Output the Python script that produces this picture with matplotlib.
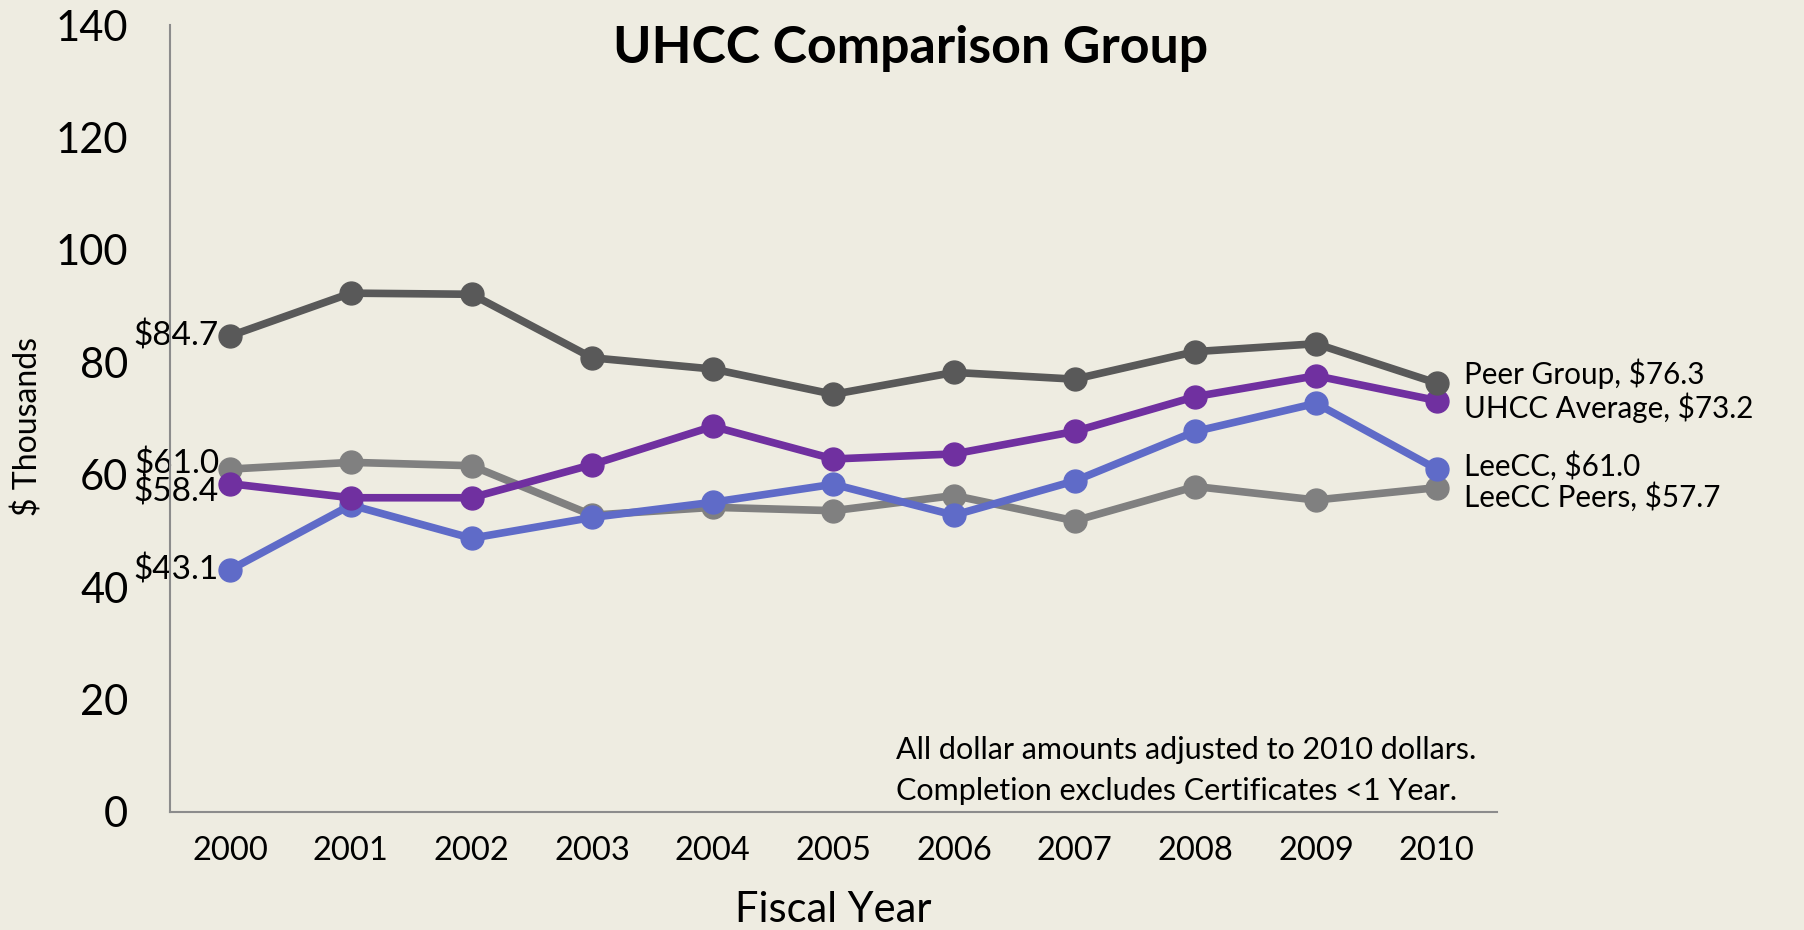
import matplotlib
matplotlib.use("Agg")
import matplotlib.pyplot as plt
import numpy as np

plt.rcParams['font.family'] = ['Lato', 'DejaVu Sans']

years = ['2000', '2001', '2002', '2003', '2004', '2005', '2006', '2007', '2008', '2009', '2010']

peer_group = [84.7, 92.3, 92.1, 80.8, 78.8, 74.3, 78.2, 77.0, 81.9, 83.3, 76.3]
uhcc_avg = [58.4, 55.9, 55.9, 61.8, 68.6, 62.8, 63.7, 67.7, 73.9, 77.6, 73.2]
leecc = [43.1, 54.6, 48.7, 52.4, 55.1, 58.3, 52.8, 58.9, 67.7, 72.7, 61.0]
leecc_peers = [61.0, 62.2, 61.6, 52.8, 54.2, 53.6, 56.3, 51.8, 57.9, 55.5, 57.7]

names = ['Peer Group', 'UHCC Average', 'LeeCC', 'LeeCC Peers']
series = [peer_group, uhcc_avg, leecc, leecc_peers]
colors = ['#595959', '#7030A0', '#5F6BC8', '#808080']
# label offsets (points): left start label, right end label
left_dy = [0, -6, 0, 4]
right_dy = [7, -5, 2, -7]

bg = '#EEECE1'
fig = plt.figure(figsize=(18.04, 9.30), dpi=100, facecolor=bg)
ax = fig.add_axes([0.0942, 0.1269, 0.7356, 0.8462], facecolor=bg)

x = np.arange(len(years))
for i in [3, 2, 1, 0]:
    ax.plot(x, series[i], color=colors[i], lw=5.5, marker='o', ms=16.5,
            solid_joinstyle='round', zorder=3)

for i in range(4):
    ax.annotate(f"${series[i][0]:.1f}", (x[0], series[i][0]),
                xytext=(-8, left_dy[i]), textcoords='offset points',
                ha='right', va='center', fontsize=24, color='black', zorder=2)
    ax.annotate(f"{names[i]}, ${series[i][-1]:.1f}", (x[-1], series[i][-1]),
                xytext=(20, right_dy[i]), textcoords='offset points',
                ha='left', va='center', fontsize=21.3, color='black',
                annotation_clip=False)

ax.set_xlim(-0.5, len(years) - 0.5)
ax.set_ylim(0, 140)
ax.set_yticks(np.arange(0, 141, 20))
ax.set_xticks(x)
ax.set_xticklabels(years)
ax.tick_params(axis='y', length=0, pad=30, labelsize=30)
ax.tick_params(axis='x', length=0, pad=17, labelsize=23.5)

for s in ['top', 'right']:
    ax.spines[s].set_visible(False)
for s in ['left', 'bottom']:
    ax.spines[s].set_color('#8C8C8C')
    ax.spines[s].set_linewidth(1.5)

ax.set_ylabel('$ Thousands', fontsize=23, va='center')
ax.yaxis.set_label_coords(-0.107, 0.49)
ax.set_xlabel('Fiscal Year', fontsize=30, va='center')
ax.xaxis.set_label_coords(0.5, -0.125)

fig.text(0.505, 0.948, 'UHCC Comparison Group', ha='center', va='center',
         fontsize=37.4, fontweight='bold')

fig.text(0.4967, 0.194, 'All dollar amounts adjusted to 2010 dollars.',
         ha='left', va='center', fontsize=22)
fig.text(0.4967, 0.149, 'Completion excludes Certificates <1 Year.',
         ha='left', va='center', fontsize=22)

fig.savefig('out.png', dpi=100, facecolor=bg)
